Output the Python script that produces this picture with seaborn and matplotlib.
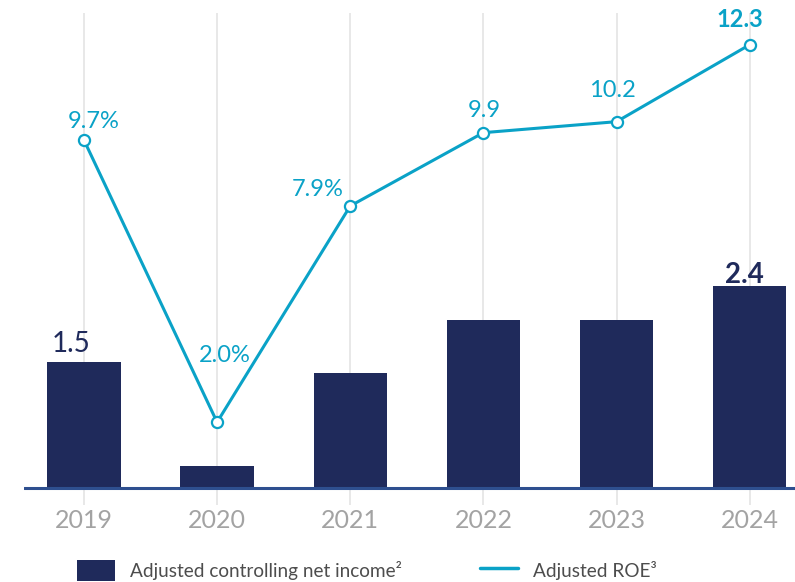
import numpy as np
import pandas as pd
import seaborn as sns
import matplotlib.pyplot as plt
from matplotlib.patches import Patch
from matplotlib.lines import Line2D

# ---- data ----
years = ["2019", "2020", "2021", "2022", "2023", "2024"]
net_income = [1.5, 0.26, 1.37, 2.0, 2.0, 2.4]          # adjusted controlling net income
income_labels = ["1.5", "", "", "", "", "2.4"]
roe = [9.7, 2.0, 7.9, 9.9, 10.2, 12.3]                 # adjusted ROE (%)
roe_labels = ["9.7%", "2.0%", "7.9%", "9.9", "10.2", "12.3"]
legend_labels = ["Adjusted controlling net income\u00b2", "Adjusted ROE\u00b3"]

# ---- style ----
NAVY = "#1f2a5b"
CYAN = "#0aa2c7"
TICK_GREY = "#a3a3a3"
BASELINE = "#2e4f8f"

sns.set_theme(style="white")
plt.rcParams["font.family"] = ["Lato", "DejaVu Sans"]

# label offsets in pixels (dx, dy) relative to the marked value
roe_offsets = [(10, 12), (8, 60), (-33, 10), (1, 16), (-4, 25), (-10, 18)]
income_offsets = [(-13, 10), None, None, None, None, (-5, 3)]
PX = 0.72  # pixels -> points at 100 dpi

fig = plt.figure(figsize=(7.95, 5.82), dpi=100)
ax = fig.add_axes([24 / 795, 77 / 582, 771 / 795, 492 / 582])

df = pd.DataFrame({"year": years, "income": net_income, "roe": roe})

sns.barplot(data=df, x="year", y="income", ax=ax, color=NAVY,
            saturation=1, width=0.55, edgecolor="none", errorbar=None)
ax.set_ylim(-17 / 84, 475 / 84)
ax.axhline(0, color=BASELINE, linewidth=2.2, zorder=3)

ax2 = ax.twinx()
sns.pointplot(data=df, x="year", y="roe", ax=ax2, color=CYAN, errorbar=None,
              markers="o", linestyles="-", linewidth=2.2, markersize=8,
              markerfacecolor="white", markeredgewidth=1.6, markeredgecolor=CYAN)
ax2.set_ylim(-(505 - 495.5) / 36.65, (495.5 - 13) / 36.65)

for a in (ax, ax2):
    a.set_xlim(-0.45, 5.34)
    a.set_xlabel("")
    a.set_ylabel("")
    a.set_yticks([])
    for s in a.spines.values():
        s.set_visible(False)

ax.set_axisbelow(True)
ax.xaxis.grid(True, color="#e6e6e6", linewidth=1.3)
ax.yaxis.grid(False)
ax2.grid(False)
ax.tick_params(axis="x", length=0, pad=3, labelsize=18, labelcolor=TICK_GREY)

# value labels on the ROE line
for i, (lbl, v, off) in enumerate(zip(roe_labels, roe, roe_offsets)):
    ax2.annotate(lbl, (i, v), xytext=(off[0] * PX, off[1] * PX),
                 textcoords="offset points", ha="center", va="baseline",
                 fontsize=17, color=CYAN,
                 fontweight="bold" if i == len(roe) - 1 else "normal")

# value labels on the bars
for i, (lbl, v, off) in enumerate(zip(income_labels, net_income, income_offsets)):
    if not lbl:
        continue
    ax.annotate(lbl, (i, v), xytext=(off[0] * PX, off[1] * PX),
                textcoords="offset points", ha="center", va="baseline",
                fontsize=20, color=NAVY,
                fontweight="bold" if i == len(net_income) - 1 else "normal")

handles = [Patch(facecolor=NAVY, edgecolor="none"),
           Line2D([], [], color=CYAN, linewidth=2.5)]
fig.legend(handles, legend_labels, loc="upper left",
           bbox_to_anchor=(77 / 795, 1 - 560 / 582), ncol=2, frameon=False,
           fontsize=13.7, labelcolor="#4d4d4d", handlelength=2.0, handleheight=1.3,
           handletextpad=0.8, columnspacing=4.1, borderpad=0, borderaxespad=0)

fig.savefig("out.png", dpi=100)
